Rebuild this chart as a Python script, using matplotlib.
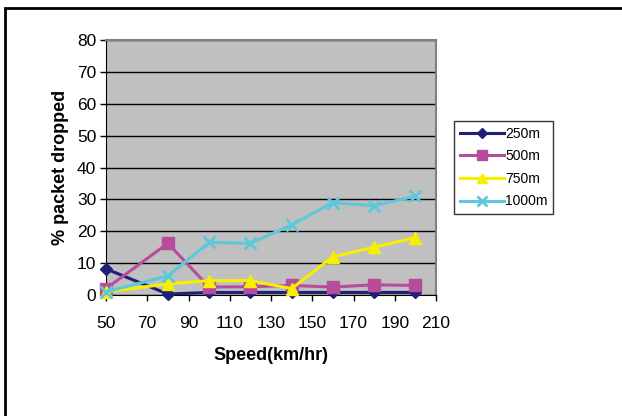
import matplotlib
matplotlib.use("Agg")
import matplotlib.pyplot as plt
from matplotlib.patches import Rectangle

plt.rcParams['font.family'] = ['Liberation Sans', 'DejaVu Sans']

speed = [50, 80, 100, 120, 140, 160, 180, 200]
drop_250 = [8.2, 0.3, 0.8, 0.8, 0.8, 0.8, 0.8, 0.8]
drop_500 = [2.0, 16.2, 2.5, 2.6, 3.0, 2.5, 3.2, 3.0]
drop_750 = [1.0, 3.5, 4.5, 4.5, 2.0, 12.0, 15.0, 18.0]
drop_1000 = [1.0, 6.0, 16.5, 16.2, 22.0, 29.0, 28.0, 31.0]
series_names = ['250m', '500m', '750m', '1000m']
x_ticks = list(range(50, 211, 20))
y_ticks = list(range(0, 81, 10))

fig = plt.figure(figsize=(6.22, 4.16), dpi=100)
fig.patch.set_facecolor('white')

# outer chart frame
fig.add_artist(Rectangle((5 / 622, -0.1), 1.2, (416 - 8) / 416 + 0.1,
                         transform=fig.transFigure, fill=False,
                         edgecolor='black', linewidth=2))

ax = fig.add_axes([106 / 622, 1 - 295 / 416, (436 - 106) / 622, (295 - 40) / 416])
ax.set_facecolor('#C0C0C0')

styles = [
    dict(color='#202078', marker='D', markersize=6),
    dict(color='#B84C9C', marker='s', markersize=8),
    dict(color='#F5F000', marker='^', markersize=9),
    dict(color='#5CC8DC', marker='x', markersize=9, markeredgewidth=2),
]
for vals, name, st in zip([drop_250, drop_500, drop_750, drop_1000], series_names, styles):
    ax.plot(speed, vals, linewidth=2.2, label=name, clip_on=False, zorder=3, **st)

ax.set_xlim(50, 210)
ax.set_ylim(0, 80)
ax.set_xticks(x_ticks)
ax.set_yticks(y_ticks)
ax.yaxis.grid(True, color='black', linewidth=1)
ax.set_axisbelow(True)
ax.tick_params(axis='both', direction='out', length=4, width=1, labelsize=12.5, colors='black')
ax.tick_params(axis='x', pad=11)
ax.tick_params(axis='y', pad=3)
for side in ['top', 'right']:
    ax.spines[side].set_color('#808080')
    ax.spines[side].set_linewidth(1.5)
ax.spines['left'].set_color('black')
ax.spines['bottom'].set_color('black')

ax.set_xlabel('Speed(km/hr)', fontsize=13, fontweight='bold', labelpad=12)
ax.set_ylabel('% packet dropped', fontsize=13, fontweight='bold', labelpad=6)

leg = ax.legend(loc='upper left', bbox_to_anchor=(454 / 622, 1 - 121 / 416),
                bbox_transform=fig.transFigure, fontsize=10, frameon=True,
                fancybox=False, edgecolor='black', handlelength=3.2,
                handletextpad=0.1, labelspacing=0.62, borderpad=0.4,
                borderaxespad=0)
leg.get_frame().set_linewidth(1)
for h in leg.legend_handles:
    h.set_markersize(h.get_markersize() * 0.85)

fig.savefig('out.png', dpi=100)
